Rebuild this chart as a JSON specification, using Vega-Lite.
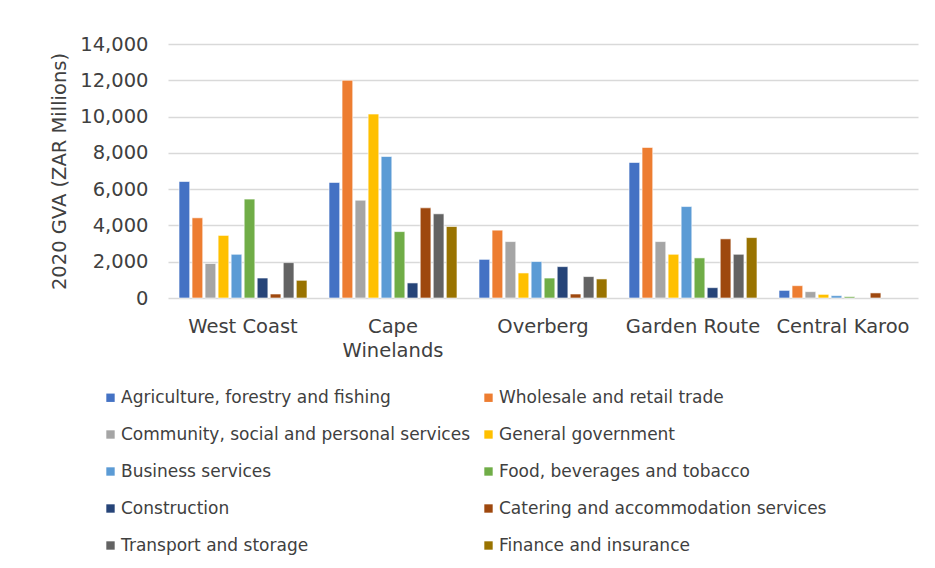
{
  "$schema": "https://vega.github.io/schema/vega-lite/v6.json",
  "autosize": {"type": "none"},
  "width": 750,
  "height": 254,
  "padding": {"left": 168, "top": 44, "right": 17, "bottom": 270},
  "background": "white",
  "config": {
    "font": "DejaVu Sans",
    "view": {"stroke": null},
    "axis": {"labelColor": "#404040", "titleColor": "#404040", "labelFont": "DejaVu Sans", "titleFont": "DejaVu Sans"},
    "legend": {"labelColor": "#404040", "labelFont": "DejaVu Sans"}
  },
  "data": {
    "values": [
      {"region": "West Coast", "sector": "Agriculture, forestry and fishing", "gva": 6420},
      {"region": "West Coast", "sector": "Wholesale and retail trade", "gva": 4420},
      {"region": "West Coast", "sector": "Community, social and personal services", "gva": 1900},
      {"region": "West Coast", "sector": "General government", "gva": 3450},
      {"region": "West Coast", "sector": "Business services", "gva": 2410},
      {"region": "West Coast", "sector": "Food, beverages and tobacco", "gva": 5450},
      {"region": "West Coast", "sector": "Construction", "gva": 1100},
      {"region": "West Coast", "sector": "Catering and accommodation services", "gva": 220},
      {"region": "West Coast", "sector": "Transport and storage", "gva": 1950},
      {"region": "West Coast", "sector": "Finance and insurance", "gva": 975},
      {"region": "Cape Winelands", "sector": "Agriculture, forestry and fishing", "gva": 6370},
      {"region": "Cape Winelands", "sector": "Wholesale and retail trade", "gva": 12000},
      {"region": "Cape Winelands", "sector": "Community, social and personal services", "gva": 5390},
      {"region": "Cape Winelands", "sector": "General government", "gva": 10140},
      {"region": "Cape Winelands", "sector": "Business services", "gva": 7800},
      {"region": "Cape Winelands", "sector": "Food, beverages and tobacco", "gva": 3660},
      {"region": "Cape Winelands", "sector": "Construction", "gva": 830},
      {"region": "Cape Winelands", "sector": "Catering and accommodation services", "gva": 4970},
      {"region": "Cape Winelands", "sector": "Transport and storage", "gva": 4640},
      {"region": "Cape Winelands", "sector": "Finance and insurance", "gva": 3940},
      {"region": "Overberg", "sector": "Agriculture, forestry and fishing", "gva": 2130},
      {"region": "Overberg", "sector": "Wholesale and retail trade", "gva": 3740},
      {"region": "Overberg", "sector": "Community, social and personal services", "gva": 3110},
      {"region": "Overberg", "sector": "General government", "gva": 1380},
      {"region": "Overberg", "sector": "Business services", "gva": 2010},
      {"region": "Overberg", "sector": "Food, beverages and tobacco", "gva": 1100},
      {"region": "Overberg", "sector": "Construction", "gva": 1730},
      {"region": "Overberg", "sector": "Catering and accommodation services", "gva": 220},
      {"region": "Overberg", "sector": "Transport and storage", "gva": 1180},
      {"region": "Overberg", "sector": "Finance and insurance", "gva": 1050},
      {"region": "Garden Route", "sector": "Agriculture, forestry and fishing", "gva": 7470},
      {"region": "Garden Route", "sector": "Wholesale and retail trade", "gva": 8300},
      {"region": "Garden Route", "sector": "Community, social and personal services", "gva": 3110},
      {"region": "Garden Route", "sector": "General government", "gva": 2410},
      {"region": "Garden Route", "sector": "Business services", "gva": 5040},
      {"region": "Garden Route", "sector": "Food, beverages and tobacco", "gva": 2210},
      {"region": "Garden Route", "sector": "Construction", "gva": 570},
      {"region": "Garden Route", "sector": "Catering and accommodation services", "gva": 3260},
      {"region": "Garden Route", "sector": "Transport and storage", "gva": 2410},
      {"region": "Garden Route", "sector": "Finance and insurance", "gva": 3330},
      {"region": "Central Karoo", "sector": "Agriculture, forestry and fishing", "gva": 420},
      {"region": "Central Karoo", "sector": "Wholesale and retail trade", "gva": 680},
      {"region": "Central Karoo", "sector": "Community, social and personal services", "gva": 350},
      {"region": "Central Karoo", "sector": "General government", "gva": 200},
      {"region": "Central Karoo", "sector": "Business services", "gva": 130},
      {"region": "Central Karoo", "sector": "Food, beverages and tobacco", "gva": 75},
      {"region": "Central Karoo", "sector": "Catering and accommodation services", "gva": 280}
    ]
  },
  "mark": {"type": "bar", "stroke": "white", "strokeWidth": 0.6},
  "encoding": {
    "x": {
      "field": "region",
      "type": "nominal",
      "sort": ["West Coast", "Cape Winelands", "Overberg", "Garden Route", "Central Karoo"],
      "scale": {"paddingInner": 0.147, "paddingOuter": 0.0735},
      "axis": {
        "title": null,
        "domain": false,
        "ticks": false,
        "labelAngle": 0,
        "labelFontSize": 19.5,
        "labelPadding": 19,
        "labelLineHeight": 24,
        "labelExpr": "datum.label == 'Cape Winelands' ? ['Cape', 'Winelands'] : datum.label"
      }
    },
    "xOffset": {
      "field": "sector",
      "type": "nominal",
      "scale": {
        "domain": [
          "Agriculture, forestry and fishing",
          "Wholesale and retail trade",
          "Community, social and personal services",
          "General government",
          "Business services",
          "Food, beverages and tobacco",
          "Construction",
          "Catering and accommodation services",
          "Transport and storage",
          "Finance and insurance"
        ],
        "paddingInner": 0.18,
        "paddingOuter": 0
      }
    },
    "y": {
      "field": "gva",
      "type": "quantitative",
      "scale": {"domain": [0, 14000], "nice": false},
      "axis": {
        "title": "2020 GVA (ZAR Millions)",
        "titleFontSize": 19.5,
        "titleFontWeight": "normal",
        "titlePadding": 10,
        "values": [0, 2000, 4000, 6000, 8000, 10000, 12000, 14000],
        "format": ",d",
        "labelFontSize": 19.5,
        "labelPadding": 20,
        "ticks": false,
        "domain": false,
        "gridColor": "#d9d9d9",
        "gridWidth": 1.5
      }
    },
    "color": {
      "field": "sector",
      "type": "nominal",
      "scale": {
        "domain": [
          "Agriculture, forestry and fishing",
          "Wholesale and retail trade",
          "Community, social and personal services",
          "General government",
          "Business services",
          "Food, beverages and tobacco",
          "Construction",
          "Catering and accommodation services",
          "Transport and storage",
          "Finance and insurance"
        ],
        "range": ["#4472C4", "#ED7D31", "#A5A5A5", "#FFC000", "#5B9BD5", "#70AD47", "#264478", "#9E480E", "#636363", "#997300"]
      },
      "legend": {
        "title": null,
        "orient": "none",
        "legendX": -66,
        "legendY": 345,
        "columns": 2,
        "columnPadding": 9,
        "rowPadding": 19,
        "symbolType": "square",
        "symbolSize": 70,
        "symbolStrokeWidth": 0,
        "labelFontSize": 17,
        "labelOffset": 2,
        "labelLimit": 420,
        "values": [
          "Agriculture, forestry and fishing",
          "Community, social and personal services",
          "Business services",
          "Construction",
          "Transport and storage",
          "Wholesale and retail trade",
          "General government",
          "Food, beverages and tobacco",
          "Catering and accommodation services",
          "Finance and insurance"
        ]
      }
    }
  }
}
